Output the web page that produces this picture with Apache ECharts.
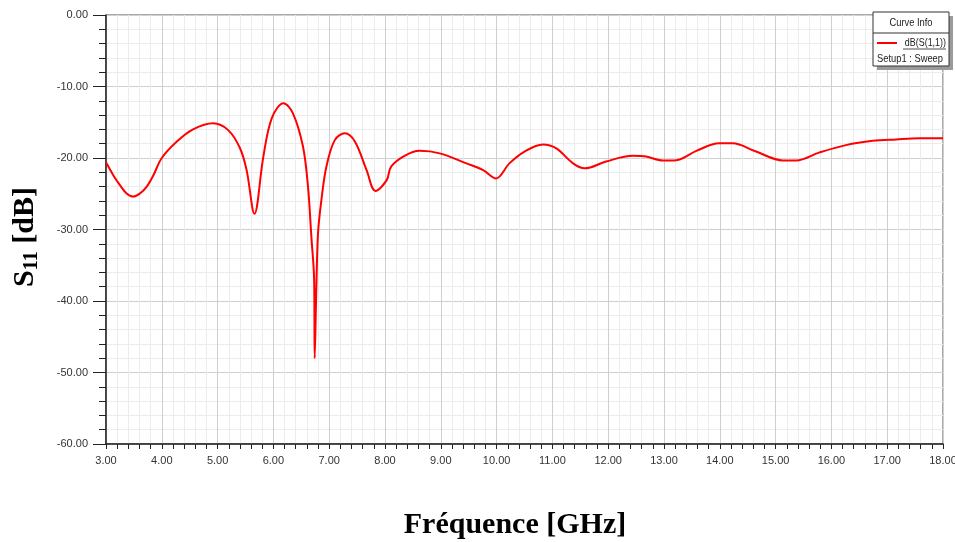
<!DOCTYPE html>
<html>
<head>
<meta charset="utf-8">
<script src="https://cdn.jsdelivr.net/npm/echarts@6/dist/echarts.min.js"></script>
<style>
  html, body { margin: 0; padding: 0; background: #fff; }
  #chart { width: 955px; height: 542px; }
</style>
</head>
<body>
<div id="chart"></div>
<script>
// Return loss sweep, dB(S(1,1)) versus frequency
const freqGHz = [
  3.00, 3.13, 3.25, 3.37, 3.49, 3.61, 3.73, 3.85, 4.00, 4.27, 4.56, 4.92,
  5.19, 5.40, 5.52, 5.66, 5.82, 5.97, 6.18, 6.35, 6.53, 6.62, 6.68, 6.73,
  6.74, 6.77, 6.80, 6.86, 6.95, 7.10, 7.28, 7.46, 7.67, 7.83, 8.03, 8.11,
  8.35, 8.62, 8.98, 9.46, 9.76, 9.99, 10.23, 10.50, 10.83, 11.07, 11.37,
  11.58, 11.96, 12.44, 12.68, 12.98, 13.22, 13.58, 13.99, 14.23, 14.65,
  15.13, 15.37, 15.78, 16.26, 16.74, 17.16, 17.57, 18.00
];
const s11dB = [
  -20.6, -22.4, -23.8, -24.95, -25.4, -24.95, -24.0, -22.4, -20.0, -17.7, -16.0, -15.15,
  -16.1, -18.6, -21.7, -27.8, -19.8, -14.45, -12.35, -13.75, -18.4, -24.0, -31.0, -37.0,
  -48.0, -38.0, -30.5, -25.9, -21.2, -17.5, -16.55, -17.7, -21.7, -24.6, -23.1, -21.2,
  -19.7, -19.0, -19.35, -20.75, -21.7, -22.85, -20.75, -19.1, -18.1, -18.65, -20.75,
  -21.45, -20.5, -19.7, -19.8, -20.35, -20.3, -19.0, -17.95, -17.95, -19.1,
  -20.35, -20.35, -19.25, -18.2, -17.6, -17.4, -17.25, -17.25
];
const xTicks = { min: 3, max: 18, step: 1 };
const yTicks = { min: -60, max: 0, step: 10 };
const traceName = 'dB(S(1,1))';
const setupName = 'Setup1 : Sweep';
const legendTitle = 'Curve Info';
const xTitle = 'Fréquence [GHz]';

const points = freqGHz.map((f, i) => [f, s11dB[i]]);
const tickFont = "'Liberation Sans', Arial, sans-serif";
const titleFont = "'Liberation Serif', 'Times New Roman', serif";

const chart = echarts.init(document.getElementById('chart'), null, { renderer: 'canvas' });

// narrow text helper for the curve-info box
function boxText(x, y, text, size, align) {
  return {
    type: 'text', x: x, y: y, scaleX: 0.85, z: 101,
    style: { text: text, fontFamily: tickFont, fontSize: size, fill: '#222', align: align, verticalAlign: 'middle' }
  };
}

chart.setOption({
  animation: false,
  backgroundColor: '#ffffff',
  grid: {
    left: 106, right: 12, top: 15, bottom: 98,
    outerBoundsMode: 'none',
    containLabel: false,
    show: true, borderColor: '#555', borderWidth: 1, backgroundColor: 'transparent'
  },
  xAxis: {
    type: 'value',
    min: xTicks.min, max: xTicks.max, interval: xTicks.step,
    axisLine: { show: true, onZero: false, lineStyle: { color: '#222', width: 1.5 } },
    axisTick: { show: true, length: 5, lineStyle: { color: '#222' } },
    minorTick: { show: true, splitNumber: 5, length: 5, lineStyle: { color: '#222' } },
    splitLine: { show: true, lineStyle: { color: '#cfcfcf', width: 1 } },
    minorSplitLine: { show: true, lineStyle: { color: '#ececec', width: 1 } },
    axisLabel: {
      color: '#333', fontFamily: tickFont, fontSize: 11, margin: 11,
      formatter: v => v.toFixed(2)
    }
  },
  yAxis: {
    type: 'value',
    min: yTicks.min, max: yTicks.max, interval: yTicks.step,
    axisLine: { show: true, onZero: false, lineStyle: { color: '#222', width: 1.5 } },
    axisTick: { show: true, length: 13, lineStyle: { color: '#222' } },
    minorTick: { show: true, splitNumber: 5, length: 7, lineStyle: { color: '#222' } },
    splitLine: { show: true, lineStyle: { color: '#cfcfcf', width: 1 } },
    minorSplitLine: { show: true, lineStyle: { color: '#ececec', width: 1 } },
    axisLabel: {
      color: '#333', fontFamily: tickFont, fontSize: 11, margin: 18,
      formatter: v => v.toFixed(2)
    }
  },
  series: [{
    type: 'line',
    name: traceName,
    data: points,
    showSymbol: false,
    smooth: 0.35,
    lineStyle: { color: '#ff0000', width: 2 },
    z: 5
  }],
  graphic: [
    // rotated y-axis title with subscript
    {
      type: 'text',
      x: 25, y: 237,
      rotation: Math.PI / 2,
      style: {
        text: '{s|S}{sub|11}{s| [dB]}',
        align: 'center', verticalAlign: 'middle',
        rich: {
          s: { fontFamily: titleFont, fontWeight: 'bold', fontSize: 30, fill: '#000' },
          sub: { fontFamily: titleFont, fontWeight: 'bold', fontSize: 20, fill: '#000', padding: [14, 0, 0, 0] }
        }
      }
    },
    // x-axis title
    {
      type: 'text',
      x: 515, y: 525,
      style: {
        text: xTitle,
        fontFamily: titleFont, fontWeight: 'bold', fontSize: 30, fill: '#000',
        align: 'center', verticalAlign: 'middle'
      }
    },
    // curve info box
    { type: 'rect', z: 100, shape: { x: 877, y: 16, width: 76, height: 54 }, style: { fill: '#9a9a9a' } },
    { type: 'rect', z: 100, shape: { x: 873, y: 12, width: 76, height: 54 }, style: { fill: '#fff', stroke: '#333', lineWidth: 1 } },
    { type: 'line', z: 101, shape: { x1: 873, y1: 33, x2: 949, y2: 33 }, style: { stroke: '#333', lineWidth: 1 } },
    boxText(911, 23, legendTitle, 11, 'center'),
    { type: 'line', z: 101, shape: { x1: 877, y1: 43, x2: 897, y2: 43 }, style: { stroke: '#ff0000', lineWidth: 2 } },
    boxText(946, 43, traceName, 10.5, 'right'),
    { type: 'line', z: 101, shape: { x1: 903, y1: 49, x2: 946, y2: 49 }, style: { stroke: '#222', lineWidth: 0.8 } },
    boxText(877, 59, setupName, 11, 'left')
  ]
});
</script>
</body>
</html>
